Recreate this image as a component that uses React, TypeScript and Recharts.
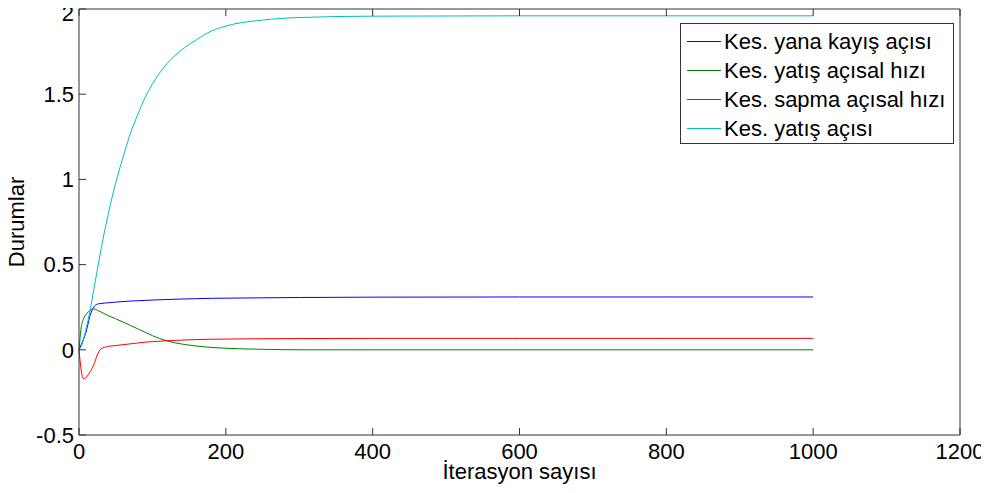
import { LineChart, Line, XAxis, YAxis } from "recharts"

const iterations = [0, 3, 6, 10, 15, 20, 25, 30, 40, 50, 60, 70, 80, 90, 100, 120, 140, 160, 180, 200, 250, 300, 400, 600, 800, 1000]
const yanaKayis = [0, 0.03, 0.06, 0.11, 0.2, 0.25, 0.268, 0.272, 0.276, 0.28, 0.283, 0.286, 0.288, 0.29, 0.292, 0.295, 0.298, 0.3, 0.302, 0.303, 0.305, 0.307, 0.309, 0.31, 0.31, 0.31]
const yatisHiz = [0, 0.13, 0.18, 0.21, 0.23, 0.24, 0.232, 0.222, 0.2, 0.182, 0.163, 0.143, 0.123, 0.103, 0.083, 0.052, 0.034, 0.022, 0.014, 0.009, 0.003, 0, 0, 0, 0, 0]
const sapmaHiz = [0, -0.12, -0.17, -0.16, -0.13, -0.09, -0.03, 0.005, 0.02, 0.025, 0.03, 0.035, 0.04, 0.045, 0.048, 0.053, 0.057, 0.06, 0.062, 0.063, 0.065, 0.066, 0.067, 0.067, 0.067, 0.067]
const yatisAci = [0, 0.02, 0.06, 0.13, 0.23, 0.35, 0.47, 0.59, 0.8, 0.98, 1.13, 1.27, 1.38, 1.48, 1.56, 1.68, 1.76, 1.82, 1.87, 1.9, 1.935, 1.95, 1.958, 1.96, 1.96, 1.96]

const xTicks = [0, 200, 400, 600, 800, 1000, 1200]
const yTicks = [-0.5, 0, 0.5, 1, 1.5, 2]

const series = [
  { key: "yana", name: "Kes. yana kayış açısı", color: "#0000ff", values: yanaKayis },
  { key: "yatisHiz", name: "Kes. yatış açısal hızı", color: "#008000", values: yatisHiz },
  { key: "sapma", name: "Kes. sapma açısal hızı", color: "#ff0000", values: sapmaHiz },
  { key: "yatis", name: "Kes. yatış açısı", color: "#00bfbf", values: yatisAci },
]

const data = iterations.map((it, i) => {
  const row: Record<string, number> = { it }
  series.forEach((s) => (row[s.key] = s.values[i]))
  return row
})

const font = "Arial, 'Liberation Sans', sans-serif"

// legend drawn as an overlay so it doesn't eat into the plot area
function LegendBox() {
  return (
    <div
      style={{
        position: "absolute",
        left: 680,
        top: 23,
        border: "1px solid #333",
        background: "#fff",
        width: 274,
        height: 121,
        boxSizing: "border-box",
        paddingTop: 3,
        fontFamily: font,
        fontSize: 22,
        color: "#000",
      }}
    >
      {series.map((s) => (
        <div key={s.key} style={{ position: "relative", height: 29, lineHeight: "29px", paddingLeft: 43, whiteSpace: "nowrap" }}>
          <svg width={34} height={4} style={{ position: "absolute", left: 6, top: 13, display: "block" }}>
            <line x1={0} y1={1.5} x2={34} y2={1.5} stroke={s.color} strokeWidth={1} />
          </svg>
          {s.name}
        </div>
      ))}
    </div>
  )
}

export default function App() {
  return (
    <div style={{ margin: -8, background: "#fff", width: 989, height: 493, position: "relative" }}>
      <LineChart width={989} height={493} data={data} margin={{ top: 8, right: 28, bottom: 0, left: 0 }}>
        <XAxis
          xAxisId="b"
          dataKey="it"
          type="number"
          domain={[0, 1200]}
          ticks={xTicks}
          stroke="#333"
          tickSize={-7}
          tickMargin={15}
          height={58}
          tick={{ fill: "#000", fontSize: 22, fontFamily: font }}
          label={{ value: "İterasyon sayısı", position: "insideBottom", offset: 14, fill: "#000", fontSize: 22, fontFamily: font }}
        />
        <XAxis
          xAxisId="t"
          dataKey="it"
          type="number"
          orientation="top"
          domain={[0, 1200]}
          ticks={xTicks}
          stroke="#333"
          tickSize={-7}
          height={1}
          tickFormatter={() => ""}
        />
        <YAxis
          yAxisId="l"
          type="number"
          domain={[-0.5, 2]}
          ticks={yTicks}
          stroke="#333"
          width={79}
          tickSize={-7}
          tickMargin={12}
          tick={{ fill: "#000", fontSize: 22, fontFamily: font }}
          label={{ value: "Durumlar", angle: -90, position: "center", dx: -23, fill: "#000", fontSize: 22, fontFamily: font }}
        />
        <YAxis
          yAxisId="r"
          type="number"
          orientation="right"
          domain={[-0.5, 2]}
          ticks={yTicks}
          stroke="#333"
          width={1}
          tickSize={-7}
          tickFormatter={() => ""}
        />
        {series.map((s) => (
          <Line
            key={s.key}
            xAxisId="b"
            yAxisId="l"
            type="monotone"
            dataKey={s.key}
            name={s.name}
            stroke={s.color}
            strokeWidth={1}
            dot={false}
            activeDot={false}
            isAnimationActive={false}
          />
        ))}
      </LineChart>
      <LegendBox />
    </div>
  )
}
